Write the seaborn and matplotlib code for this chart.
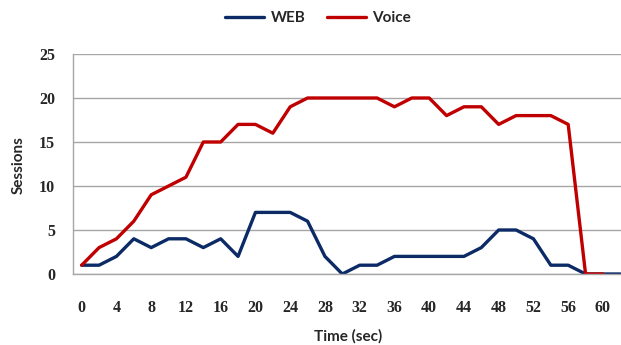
import numpy as np
import pandas as pd
import matplotlib
matplotlib.use("Agg")
import matplotlib.pyplot as plt
from matplotlib.lines import Line2D
import seaborn as sns

time = list(range(0, 64, 2))
web = [1, 1, 2, 4, 3, 4, 4, 3, 4, 2, 7, 7, 7, 6, 2, 0,
       1, 1, 2, 2, 2, 2, 2, 3, 5, 5, 4, 1, 1, 0, 0, 0]
voice = [1, 3, 4, 6, 9, 10, 11, 15, 15, 17, 17, 16, 19, 20, 20, 20,
         20, 20, 19, 20, 20, 18, 19, 19, 17, 18, 18, 18, 17, 0, 0, np.nan]
series = ["WEB", "Voice"]
colors = {"WEB": "#0B2A66", "Voice": "#C00000"}
xtick_labels = list(range(0, 61, 4))
yticks = [0, 5, 10, 15, 20, 25]

df = pd.DataFrame({
    "Time": time * 2,
    "Sessions": web + voice,
    "Series": ["WEB"] * len(time) + ["Voice"] * len(time),
}).dropna()

sns.set_style("white")
plt.rcParams["font.family"] = ["Lato", "DejaVu Sans"]

fig = plt.figure(figsize=(6.21, 3.45), dpi=100)
ax = fig.add_axes([73 / 621, 1 - 274 / 345, 556 / 621, 220 / 345])

sns.lineplot(data=df, x="Time", y="Sessions", hue="Series", hue_order=series,
             palette=colors, estimator=None, linewidth=2.4, ax=ax, legend=False)

tick_font = {"family": ["Liberation Serif", "DejaVu Serif"], "weight": "bold", "size": 11.5}
ax.set_xlim(-1, 63)
ax.set_ylim(0, 25)
ax.set_yticks(yticks)
ax.set_yticklabels([str(v) for v in yticks], fontdict=tick_font)
ax.set_xticks(xtick_labels)
ax.set_xticklabels([str(v) for v in xtick_labels], fontdict=tick_font)
ax.set_xticks(np.arange(-1, 64, 2), minor=True)
ax.tick_params(axis="x", which="major", length=0, pad=19)
ax.tick_params(axis="x", which="minor", length=4, width=1, color="#A6A6A6", direction="out")
ax.tick_params(axis="y", length=4, width=1, color="#A6A6A6", direction="out", pad=9)
ax.yaxis.grid(True, color="#A6A6A6", linewidth=1)
ax.xaxis.grid(False)
ax.set_axisbelow(True)
for s in ["top", "right"]:
    ax.spines[s].set_visible(False)
for s in ["left", "bottom"]:
    ax.spines[s].set_color("#A6A6A6")
    ax.spines[s].set_linewidth(1)

ax.set_xlabel("Time (sec)", fontweight="bold", fontsize=11)
ax.set_ylabel("Sessions", fontweight="bold", fontsize=11)
ax.xaxis.label.set_va("center")
ax.yaxis.label.set_va("center")
ax.xaxis.set_label_coords((348 - 73) / 556, -(336 - 274) / 220)
ax.yaxis.set_label_coords(-(73 - 19) / 556, (274 - 165) / 220)

handles = [Line2D([], [], color=colors[s], linewidth=2.4) for s in series]
fig.legend(handles, series, loc="center", bbox_to_anchor=(318 / 621, 1 - 18 / 345),
           ncol=2, frameon=False, handlelength=2.6, columnspacing=1.4,
           handletextpad=0.4, prop={"weight": "bold", "size": 11})

fig.savefig("out.png", dpi=100)
